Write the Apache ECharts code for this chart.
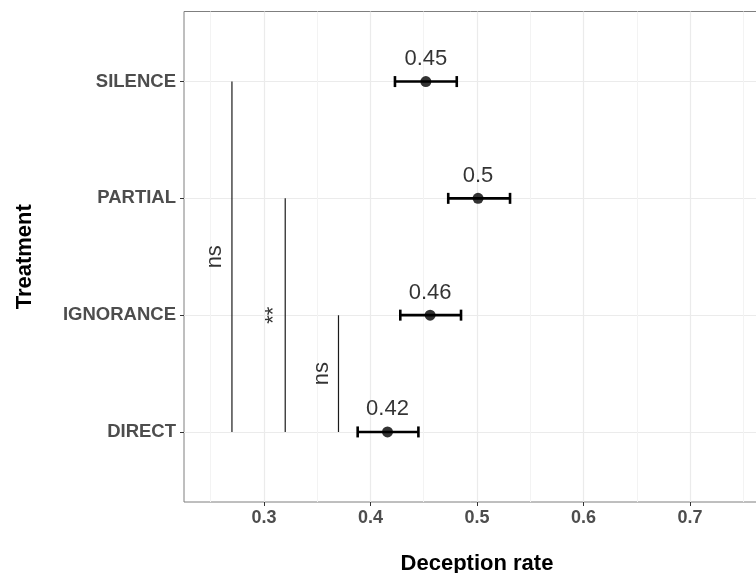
<!DOCTYPE html>
<html>
<head>
<meta charset="utf-8">
<script src="https://cdn.jsdelivr.net/npm/echarts@6/dist/echarts.min.js"></script>
<style>
  html, body { margin: 0; padding: 0; background: #fff; }
  #chart { width: 756px; height: 573px; }
</style>
</head>
<body>
<div id="chart"></div>
<script>
// ---- data ----
const categories = ['DIRECT', 'IGNORANCE', 'PARTIAL', 'SILENCE'];
const means = [0.416, 0.456, 0.501, 0.452];
const lower = [0.388, 0.428, 0.473, 0.423];
const upper = [0.445, 0.485, 0.531, 0.481];
const meanLabels = ['0.42', '0.46', '0.5', '0.45'];

const sigX = [0.27, 0.32, 0.37];
const sigFrom = ['SILENCE', 'PARTIAL', 'IGNORANCE'];
const sigTo = ['DIRECT', 'DIRECT', 'DIRECT'];
const sigText = ['ns', '**', 'ns'];

const xMajorTicks = [0.3, 0.4, 0.5, 0.6, 0.7];
const xMinorTicks = [0.25, 0.35, 0.45, 0.55, 0.65, 0.75];
const yTicks = [0, 1, 2, 3];
const xLimits = [0.225, 0.775];
const yLimits = [-0.6, 3.6];

// ---- style ----
const FONT = "'Liberation Sans', Arial, Helvetica, sans-serif";
const sigLabelShift = { 'ns': -17, '**': -11 };   // pixel shift left of the bracket line

const chart = echarts.init(document.getElementById('chart'), null, { renderer: 'canvas' });

const idx = c => categories.indexOf(c);

const errData = categories.map((c, i) => [lower[i], upper[i], i]);
const pointData = categories.map((c, i) => [means[i], i]);

const series = [];

// significance brackets (vertical lines)
sigX.forEach((x, k) => {
  series.push({
    type: 'line',
    xAxisIndex: 0,
    yAxisIndex: 0,
    data: [[x, idx(sigFrom[k])], [x, idx(sigTo[k])]],
    showSymbol: false,
    symbol: 'none',
    silent: true,
    lineStyle: { color: '#1a1a1a', width: 1.2 },
    z: 3
  });
});

// significance text
series.push({
  type: 'scatter',
  xAxisIndex: 0,
  yAxisIndex: 0,
  symbolSize: 0,
  silent: true,
  data: sigX.map((x, k) => ({
    value: [x, (idx(sigFrom[k]) + idx(sigTo[k])) / 2],
    label: { formatter: sigText[k], offset: [0, sigLabelShift[sigText[k]]] }
  })),
  label: {
    show: true,
    position: 'inside',
    rotate: 90,
    color: '#000',
    fontFamily: FONT,
    fontSize: 22
  },
  z: 4
});

// error bars
series.push({
  type: 'custom',
  xAxisIndex: 0,
  yAxisIndex: 0,
  data: errData,
  encode: { x: [0, 1], y: 2 },
  silent: true,
  renderItem: function (params, api) {
    const y = api.value(2);
    const p1 = api.coord([api.value(0), y]);
    const p2 = api.coord([api.value(1), y]);
    const h = 5.5;
    const style = { stroke: '#000', lineWidth: 2.6 };
    return {
      type: 'group',
      children: [
        { type: 'line', shape: { x1: p1[0], y1: p1[1], x2: p2[0], y2: p2[1] }, style: style },
        { type: 'line', shape: { x1: p1[0], y1: p1[1] - h, x2: p1[0], y2: p1[1] + h }, style: style },
        { type: 'line', shape: { x1: p2[0], y1: p2[1] - h, x2: p2[0], y2: p2[1] + h }, style: style }
      ]
    };
  },
  z: 5
});

// mean points with labels
series.push({
  type: 'scatter',
  xAxisIndex: 0,
  yAxisIndex: 0,
  data: pointData,
  symbol: 'circle',
  symbolSize: 11,
  itemStyle: { color: '#000' },
  silent: true,
  label: {
    show: true,
    position: 'top',
    distance: 6,
    formatter: p => meanLabels[p.dataIndex],
    color: '#000',
    fontFamily: FONT,
    fontSize: 22
  },
  z: 6
});

const option = {
  animation: false,
  backgroundColor: '#fff',
  grid: {
    left: 184,
    top: 11.5,
    width: 586,
    height: 490.5,
    show: true,
    borderColor: '#7f7f7f',
    borderWidth: 1,
    backgroundColor: 'transparent',
    containLabel: false,
    outerBoundsMode: 'none'
  },
  xAxis: [
    {
      type: 'value',
      min: xLimits[0],
      max: xLimits[1],
      z: 2,
      axisLine: { show: false, onZero: false },
      axisTick: { show: true, customValues: xMajorTicks, length: 4, lineStyle: { color: '#333' } },
      axisLabel: {
        customValues: xMajorTicks,
        margin: 7,
        color: '#4d4d4d',
        fontWeight: 'bold',
        fontFamily: FONT,
        fontSize: 18,
        formatter: v => String(v)
      },
      splitLine: { show: true, lineStyle: { color: '#ebebeb', width: 1.2 } },
      name: 'Deception rate',
      nameLocation: 'middle',
      nameGap: 51,
      nameTextStyle: { color: '#000', fontWeight: 'bold', fontFamily: FONT, fontSize: 22 }
    },
    {
      type: 'value',
      min: xLimits[0],
      max: xLimits[1],
      z: 1,
      axisLine: { show: false, onZero: false },
      axisTick: { show: false, customValues: xMinorTicks },
      axisLabel: { show: false, customValues: xMinorTicks },
      splitLine: { show: true, lineStyle: { color: '#f3f3f3', width: 1 } }
    }
  ],
  yAxis: {
    type: 'value',
    min: yLimits[0],
    max: yLimits[1],
    axisLine: { show: false, onZero: false },
    axisTick: { show: true, customValues: yTicks, length: 4, lineStyle: { color: '#333' } },
    axisLabel: {
      customValues: yTicks,
      margin: 8,
      color: '#4d4d4d',
      fontWeight: 'bold',
      fontFamily: FONT,
      fontSize: 18.5,
      formatter: v => (categories[Math.round(v)] || '')
    },
    splitLine: { show: true, lineStyle: { color: '#ebebeb', width: 1.2 } },
    name: 'Treatment',
    nameLocation: 'middle',
    nameRotate: 90,
    nameGap: 148,
    nameTextStyle: { color: '#000', fontWeight: 'bold', fontFamily: FONT, fontSize: 22 }
  },
  series: series
};

chart.setOption(option);
</script>
</body>
</html>
